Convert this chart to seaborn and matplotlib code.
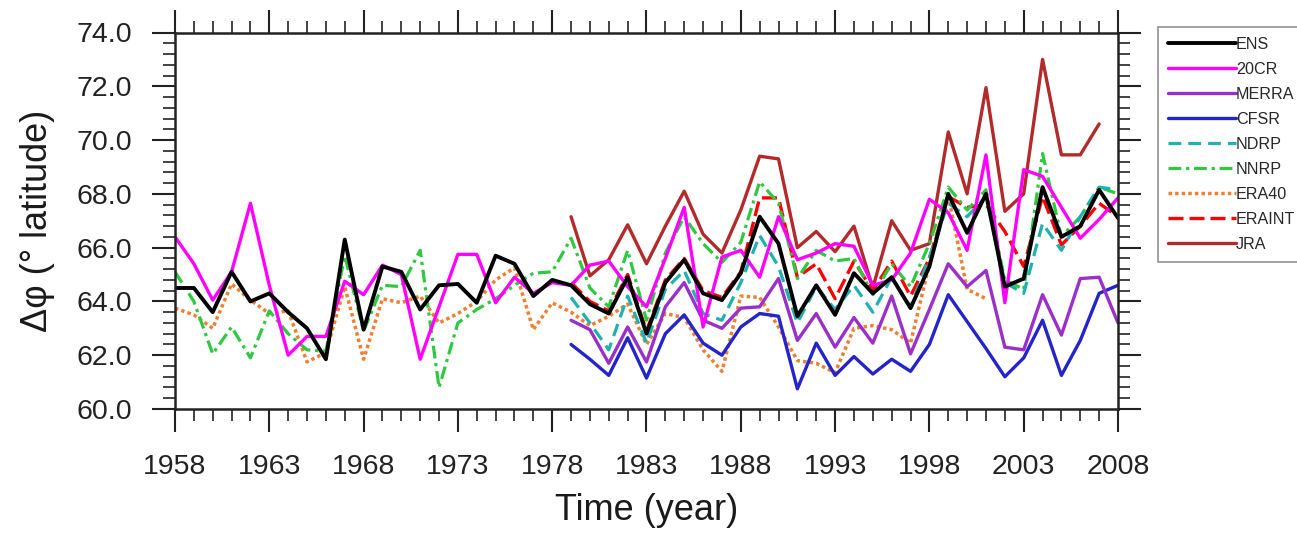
import numpy as np
import pandas as pd
import matplotlib
matplotlib.use("Agg")
import matplotlib.pyplot as plt
from matplotlib.ticker import MultipleLocator, FormatStrFormatter
import seaborn as sns

years_full = list(range(1958, 2009))
years_sat = list(range(1979, 2009))
years_era40 = list(range(1958, 2002))

ens = [64.5, 64.5, 63.6, 65.1, 64.0, 64.3, 63.6, 63.0, 61.85, 66.3,
       62.95, 65.3, 65.1, 63.7, 64.6, 64.65, 63.95, 65.7, 65.4, 64.2,
       64.8, 64.6, 63.9, 63.55, 64.9, 62.8, 64.7, 65.55, 64.3, 64.05,
       65.05, 67.15, 66.15, 63.45, 64.6, 63.5, 65.05, 64.3, 64.9, 63.75,
       65.3, 68.0, 66.55, 68.0, 64.55, 64.85, 68.25, 66.4, 66.8, 68.15, 67.1]
cr20 = [66.4, 65.4, 64.05, 65.1, 67.65, 64.6, 62.0, 62.7, 62.7, 64.75,
        64.25, 65.35, 65.0, 61.85, 63.8, 65.75, 65.75, 63.95, 64.9, 64.3,
        64.7, 64.6, 65.35, 65.5, 64.55, 63.8, 65.6, 67.5, 63.05, 65.65,
        65.9, 64.9, 67.15, 65.55, 65.8, 66.15, 66.05, 64.6, 64.8, 65.8,
        67.8, 67.3, 65.9, 69.45, 63.95, 68.9, 68.65, 67.5, 66.35, 67.05, 67.85]
nnrp = [65.1, 64.0, 62.05, 63.05, 61.9, 63.65, 62.8, 62.2, 62.15, 65.7,
        62.9, 64.6, 64.55, 65.9, 60.8, 63.2, 63.7, 64.1, 64.6, 65.05,
        65.1, 66.35, 64.5, 63.8, 65.9, 63.3, 65.8, 67.15, 66.15, 65.45,
        66.2, 68.45, 67.65, 64.85, 65.9, 65.5, 65.6, 64.25, 65.4, 64.55,
        66.15, 68.25, 67.4, 68.15, 64.8, 64.45, 69.5, 66.4, 67.15, 68.25, 68.0]
era40 = [63.75, 63.5, 63.0, 64.65, 64.05, 63.55, 63.65, 61.75, 62.1, 64.55,
         61.85, 64.1, 63.95, 64.2, 63.2, 63.55, 64.0, 64.8, 65.25, 62.95,
         63.95, 63.6, 63.1, 63.45, 63.9, 62.4, 63.55, 63.4, 62.2, 61.4,
         64.2, 64.15, 63.05, 61.8, 61.7, 61.35, 63.0, 63.1, 62.95, 62.45,
         65.4, 67.95, 64.45, 64.1]
merra = [63.3, 62.95, 61.7, 63.05, 61.75, 63.8, 64.7, 63.3, 63.0, 63.75,
         63.8, 64.85, 62.55, 63.55, 62.3, 63.4, 62.45, 64.2, 62.05, 63.7,
         65.4, 64.55, 65.15, 62.3, 62.2, 64.25, 62.75, 64.85, 64.9, 63.2]
cfsr = [62.4, 61.85, 61.25, 62.65, 61.15, 62.8, 63.5, 62.45, 62.0, 63.05,
        63.55, 63.45, 60.75, 62.45, 61.25, 61.95, 61.3, 61.85, 61.4, 62.4,
        64.25, 63.25, 62.25, 61.2, 61.9, 63.3, 61.25, 62.55, 64.3, 64.6]
ndrp = [64.15, 63.2, 62.2, 64.2, 62.45, 64.45, 65.15, 63.55, 63.3, 64.7,
        66.45, 65.3, 63.2, 64.55, 63.7, 64.6, 63.6, 64.9, 63.8, 65.65,
        67.65, 67.15, 67.9, 64.7, 64.3, 66.9, 65.9, 67.15, 68.25, 68.15]
eraint = [64.7, 64.0, 63.65, 65.0, 62.9, 64.8, 65.6, 64.4, 64.15, 65.1,
          67.85, 67.85, 64.9, 65.4, 64.1, 65.5, 64.4, 65.5, 64.2, 65.6,
          67.9, 67.5, 67.6, 66.6, 65.3, 67.9, 66.1, 66.8, 67.65, 67.15]
jra = [67.15, 64.95, 65.55, 66.85, 65.4, 66.8, 68.1, 66.5, 65.8, 67.4,
       69.4, 69.3, 66.0, 66.6, 65.85, 66.8, 64.5, 67.0, 65.9, 66.15,
       70.3, 68.0, 71.95, 67.35, 68.0, 73.0, 69.45, 69.45, 70.6, np.nan]

series_names = ["ENS", "20CR", "MERRA", "CFSR", "NDRP", "NNRP", "ERA40", "ERAINT", "JRA"]

sns.set_style("white")
plt.rcParams["font.family"] = ["Liberation Sans", "DejaVu Sans"]

fig = plt.figure(figsize=(12.97, 5.35), dpi=100)
ax = fig.add_axes([175 / 1297, 1 - 409 / 535, 943 / 1297, 376.5 / 535])

specs = {
    "JRA":    (years_sat, jra, "#B22A2A", "-", 2.4),
    "ERAINT": (years_sat, eraint, "#FF0000", (0, (4.5, 1.8)), 2.4),
    "ERA40":  (years_era40, era40, "#F07F30", (0, (1.0, 0.9)), 2.5),
    "NNRP":   (years_full, nnrp, "#30C840", (0, (4.0, 1.5, 1.0, 1.5)), 2.3),
    "NDRP":   (years_sat, ndrp, "#20B0B0", (0, (4.0, 2.2)), 2.3),
    "CFSR":   (years_sat, cfsr, "#2424C8", "-", 2.4),
    "MERRA":  (years_sat, merra, "#9A30C8", "-", 2.4),
    "20CR":   (years_full, cr20, "#FF00FF", "-", 2.4),
    "ENS":    (years_full, ens, "#000000", "-", 2.8),
}

draw_order = ["JRA", "ERAINT", "ERA40", "NNRP", "NDRP", "CFSR", "MERRA", "20CR", "ENS"]
for name in draw_order:
    x, y, c, ls, lw = specs[name]
    df = pd.DataFrame({"year": x, "val": y})
    sns.lineplot(data=df, x="year", y="val", ax=ax, color=c, linestyle=ls,
                 linewidth=lw, label=name, legend=False)

ax.set_xlim(1958, 2008)
ax.set_ylim(60, 74)
ax.set_xticks(list(range(1958, 2009, 5)))
ax.xaxis.set_minor_locator(MultipleLocator(1))
ax.set_yticks(np.arange(60, 74.01, 2))
ax.yaxis.set_minor_locator(MultipleLocator(0.4))
ax.yaxis.set_major_formatter(FormatStrFormatter("%.1f"))

ax.tick_params(which="both", direction="out", top=True, right=True,
               bottom=True, left=True,
               labeltop=False, labelright=False, colors="#222222")
ax.tick_params(which="major", length=16.5, width=1.5, labelsize=20.5)
ax.tick_params(which="minor", length=8.6, width=1.2)
ax.tick_params(axis="x", which="major", pad=16)
ax.tick_params(axis="y", which="major", pad=14.5)
for sp in ax.spines.values():
    sp.set_linewidth(1.8)
    sp.set_color("#222222")

ax.set_xlabel("Time (year)", fontsize=26, labelpad=9, color="#1a1a1a")
ax.set_ylabel("Δφ (° latitude)", fontsize=26, labelpad=15, color="#1a1a1a")

handles, labels = ax.get_legend_handles_labels()
hmap = dict(zip(labels, handles))
leg = ax.legend([hmap[n] for n in series_names], series_names,
                loc="upper left", bbox_to_anchor=(1158 / 1297, 1 - 26.7 / 535),
                bbox_transform=fig.transFigure, borderaxespad=0,
                fontsize=11.6, handlelength=4.2, handletextpad=0.02,
                labelspacing=0.62, borderpad=0.62, frameon=True,
                fancybox=False, edgecolor="#777777")
leg.get_frame().set_linewidth(1.2)

fig.savefig("out.png", dpi=100, facecolor="white")
